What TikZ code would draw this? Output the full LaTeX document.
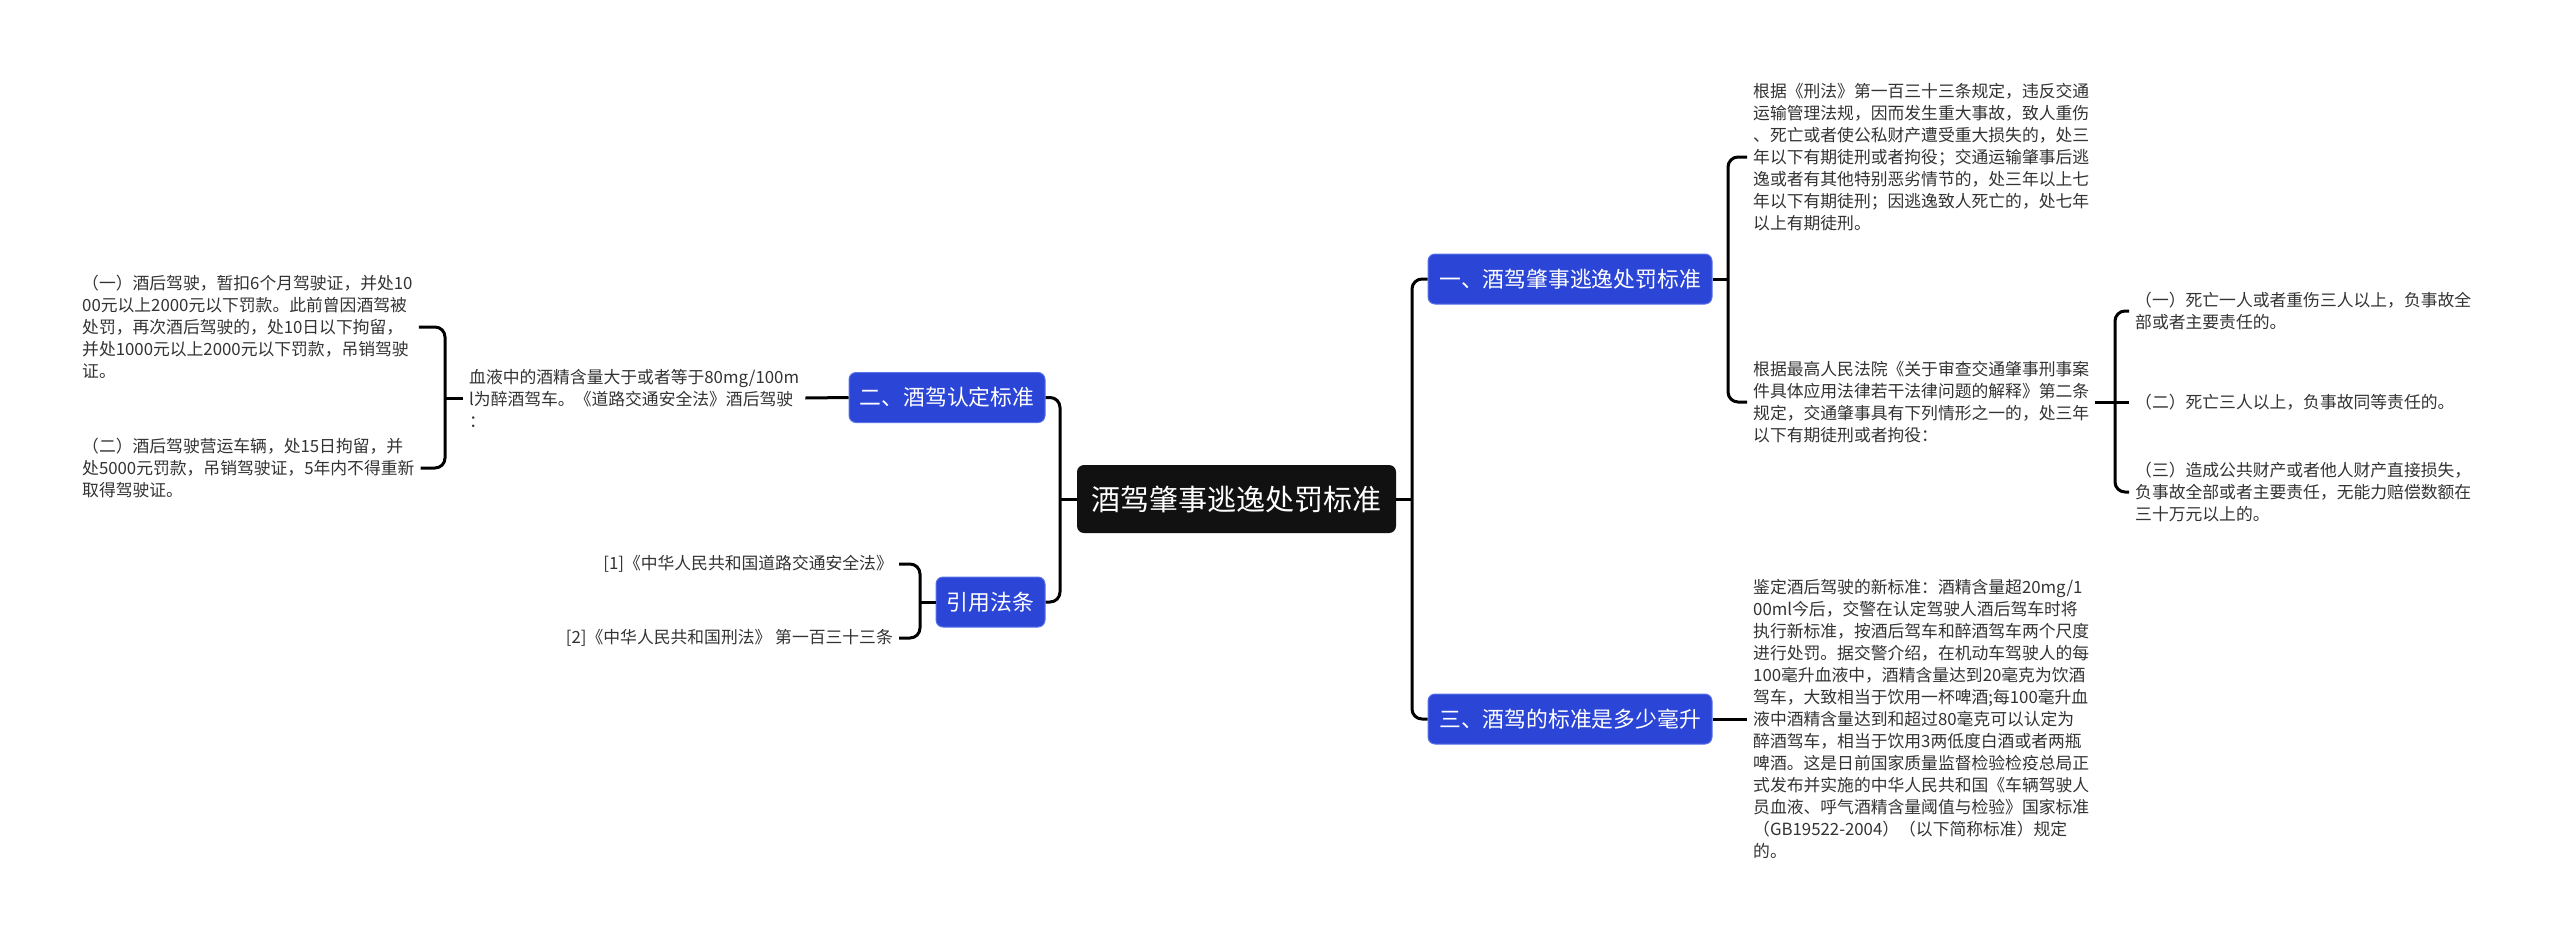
\documentclass[tikz,border=0pt]{standalone}
\usepackage{fontspec}
\setmainfont{Noto Sans CJK SC}
\definecolor{nodeblue}{HTML}{2B45D6}
\definecolor{nodeedge}{HTML}{5A72E6}
\definecolor{rootfill}{HTML}{111111}
\definecolor{txt}{HTML}{333333}
\begin{document}
\begin{tikzpicture}[x=1pt,y=-1pt,
 conn/.style={line width=3pt, draw=black},
 elbow/.style={conn, rounded corners=10pt},
 rootbox/.style={fill=rootfill, rounded corners=7pt, text=white, font=\fontsize{29}{34}\selectfont, minimum width=319pt, minimum height=68pt, inner sep=0pt},
 topic/.style={fill=nodeblue, draw=nodeedge, line width=1pt, rounded corners=7pt, text=white, font=\fontsize{21.8}{26}\selectfont, minimum height=50pt, inner sep=0pt},
 leaf/.style={text=txt, font=\fontsize{16.8}{22}\selectfont, align=left, inner xsep=6pt, inner ysep=0pt},
]
\useasboundingbox (0,0) rectangle (2560,943);
\fill[white] (0,0) rectangle (2560,943);

% main nodes
\node[rootbox] (root) at (1236.5,499) {酒驾肇事逃逸处罚标准};
\node[topic, minimum width=284pt] (t1) at (1570,279) {一、酒驾肇事逃逸处罚标准};
\node[topic, minimum width=284pt] (t3) at (1570,719) {三、酒驾的标准是多少毫升};
\node[topic, minimum width=196pt] (t2) at (947,397.5) {二、酒驾认定标准};
\node[topic, minimum width=109pt] (t4) at (990.5,602) {引用法条};

% right leaves
\node[leaf, anchor=west] (a1) at (1747,157) {根据《刑法》第一百三十三条规定，违反交通\\运输管理法规，因而发生重大事故，致人重伤\\、死亡或者使公私财产遭受重大损失的，处三\\年以下有期徒刑或者拘役；交通运输肇事后逃\\逸或者有其他特别恶劣情节的，处三年以上七\\年以下有期徒刑；因逃逸致人死亡的，处七年\\以上有期徒刑。};
\node[leaf, anchor=west] (a2) at (1747,402) {根据最高人民法院《关于审查交通肇事刑事案\\件具体应用法律若干法律问题的解释》第二条\\规定，交通肇事具有下列情形之一的，处三年\\以下有期徒刑或者拘役：};
\node[leaf, anchor=west] (b1) at (2129,311) {（一）死亡一人或者重伤三人以上，负事故全\\部或者主要责任的。};
\node[leaf, anchor=west] (b2) at (2129,402) {（二）死亡三人以上，负事故同等责任的。};
\node[leaf, anchor=west] (b3) at (2129,492) {（三）造成公共财产或者他人财产直接损失，\\负事故全部或者主要责任，无能力赔偿数额在\\三十万元以上的。};
\node[leaf, anchor=west] (a3) at (1747,719) {鉴定酒后驾驶的新标准：酒精含量超20mg/1\\00ml今后，交警在认定驾驶人酒后驾车时将\\执行新标准，按酒后驾车和醉酒驾车两个尺度\\进行处罚。据交警介绍，在机动车驾驶人的每\\100毫升血液中，酒精含量达到20毫克为饮酒\\驾车，大致相当于饮用一杯啤酒;每100毫升血\\液中酒精含量达到和超过80毫克可以认定为\\醉酒驾车，相当于饮用3两低度白酒或者两瓶\\啤酒。这是日前国家质量监督检验检疫总局正\\式发布并实施的中华人民共和国《车辆驾驶人\\员血液、呼气酒精含量阈值与检验》国家标准\\（GB19522-2004）（以下简称标准）规定\\的。};

% left leaves
\node[leaf, anchor=west] (l1) at (463,398) {血液中的酒精含量大于或者等于80mg/100m\\l为醉酒驾车。《道路交通安全法》酒后驾驶\\：};
\node[leaf, anchor=west] (m1) at (76,327) {（一）酒后驾驶，暂扣6个月驾驶证，并处10\\00元以上2000元以下罚款。此前曾因酒驾被\\处罚，再次酒后驾驶的，处10日以下拘留，\\并处1000元以上2000元以下罚款，吊销驾驶\\证。};
\node[leaf, anchor=west] (m2) at (76,468) {（二）酒后驾驶营运车辆，处15日拘留，并\\处5000元罚款，吊销驾驶证，5年内不得重新\\取得驾驶证。};
\node[leaf, anchor=east] (r1) at (899,564) {[1]《中华人民共和国道路交通安全法》};
\node[leaf, anchor=east] (r2) at (899,638) {[2]《中华人民共和国刑法》 第一百三十三条};

% junctions
\coordinate (jr) at (1412,499);
\coordinate (jl) at (1060,499);
\coordinate (j1) at (1728,279);
\coordinate (j2) at (2115,402);
\coordinate (jb) at (445,398);
\coordinate (jc) at (920,602);

% connectors
\draw[conn] (root.east) -- (jr);
\draw[elbow] (t1.west) -| (jr) |- (t3.west);
\draw[conn] (root.west) -- (jl);
\draw[elbow] (t2.east) -| (jl) |- (t4.east);
\draw[conn] (t1.east) -- (j1);
\draw[elbow] (a1.west) -| (j1) |- (a2.west);
\draw[conn] (a2.east) -- (j2);
\draw[elbow] (b1.west) -| (j2) |- (b3.west);
\draw[conn] (j2) -- (b2.west);
\draw[conn] (t3.east) -- (a3.west);
\draw[conn] (t2.west) -- (l1.east);
\draw[conn] (l1.west) -- (jb);
\draw[elbow] (m1.east) -| (jb) |- (m2.east);
\draw[conn] (t4.west) -- (jc);
\draw[elbow] (r1.east) -| (jc) |- (r2.east);
\end{tikzpicture}
\end{document}
